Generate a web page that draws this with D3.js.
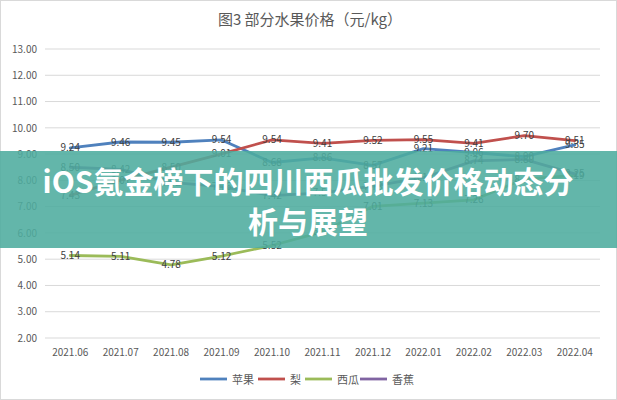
<!DOCTYPE html>
<html><head><meta charset="utf-8">
<script src="https://cdn.jsdelivr.net/npm/d3@7/dist/d3.min.js"></script>
<style>
html,body{margin:0;padding:0;background:#fff;}
svg{display:block;}
</style></head>
<body>
<svg id="c" width="617" height="400"></svg>
<script>
const months = ["2021.06","2021.07","2021.08","2021.09","2021.10","2021.11","2021.12","2022.01","2022.02","2022.03","2022.04"];
const apple = [9.24,9.46,9.45,9.54,8.68,8.86,8.57,9.21,9.06,8.90,9.35];
const pear = [7.43,8.01,8.50,9.01,9.54,9.41,9.52,9.55,9.41,9.70,9.51];
const watermelon = [5.14,5.11,4.78,5.12,5.52,6.04,7.01,7.13,7.26,8.05,8.19];
const banana = [8.50,8.42,7.92,7.76,7.42,7.52,7.78,8.10,8.74,8.80,8.25];
const seriesNames = ["苹果","梨","西瓜","香蕉"];
const seriesColors = ["#4f81bd","#c0504d","#9bbb59","#8064a2"];
const yTicks = [2,3,4,5,6,7,8,9,10,11,12,13];
const title = "图3  部分水果价格（元/kg）";
const bannerLines = ["iOS氪金榜下的四川西瓜批发价格动态分","析与展望"];

const series = [apple, pear, watermelon, banana];
const svg = d3.select("#c");
const font = "'Microsoft YaHei','Noto Sans CJK SC','Noto Sans',sans-serif";

svg.append("rect").attr("x",0.5).attr("y",0.5).attr("width",616).attr("height",399)
  .attr("fill","#fff").attr("stroke","#d9d9d9");

const x = d3.scaleBand().domain(months).range([45,600]);
const y = d3.scaleLinear().domain([2,13]).range([338,49]);

svg.append("text").attr("x",310).attr("y",25).attr("text-anchor","middle")
  .attr("font-family",font).attr("font-size",15).attr("fill","#595959").text(title);

// gridlines
svg.append("g").selectAll("line").data(yTicks).join("line")
  .attr("x1",45).attr("x2",600).attr("y1",d=>y(d)).attr("y2",d=>y(d))
  .attr("stroke","#d9d9d9").attr("stroke-width",1);

const yAxis = svg.append("g").attr("transform","translate(45,0)")
  .call(d3.axisLeft(y).tickValues(yTicks).tickFormat(d3.format(".2f")).tickSize(0).tickPadding(8));
yAxis.select(".domain").remove();
yAxis.selectAll("text").attr("font-family",font).attr("font-size",10).attr("fill","#595959");

const xAxis = svg.append("g").attr("transform","translate(0,338)")
  .call(d3.axisBottom(x).tickSize(0).tickPadding(11));
xAxis.select(".domain").remove();
xAxis.selectAll("text").attr("font-family",font).attr("font-size",10).attr("fill","#595959");

const cx = d => x(d) + x.bandwidth()/2;
const line = d3.line().x((d,i)=>cx(months[i])).y(d=>y(d));

series.forEach((s,k)=>{
  svg.append("path").datum(s).attr("d",line).attr("fill","none")
    .attr("stroke",seriesColors[k]).attr("stroke-width",2.8)
    .attr("stroke-linejoin","round").attr("stroke-linecap","round");
});
series.forEach((s,k)=>{
  svg.append("g").selectAll("text").data(s).join("text")
    .attr("x",(d,i)=>cx(months[i])).attr("y",d=>y(d)+3.5)
    .attr("text-anchor","middle").attr("font-family",font).attr("font-size",10)
    .attr("fill","#404040").text(d=>d3.format(".2f")(d));
});

// legend
const legItems = [{x:200,tx:232},{x:258,tx:290},{x:305,tx:337},{x:360,tx:392}];
seriesNames.forEach((n,k)=>{
  const it = legItems[k];
  svg.append("line").attr("x1",it.x).attr("x2",it.x+27).attr("y1",379).attr("y2",379)
    .attr("stroke",seriesColors[k]).attr("stroke-width",2.8);
  svg.append("text").attr("x",it.tx).attr("y",383.5).attr("font-family",font)
    .attr("font-size",11).attr("fill","#595959").text(n);
});

// banner overlay
svg.append("rect").attr("x",0).attr("y",151).attr("width",617).attr("height",97)
  .attr("fill","rgba(77,172,158,0.88)");
bannerLines.forEach((t,i)=>{
  svg.append("text").attr("x",308).attr("y",193+i*40).attr("text-anchor","middle")
    .attr("font-family","'Noto Sans CJK SC',sans-serif").attr("font-weight","bold")
    .attr("font-size",30).attr("fill","#fff").text(t);
});
</script>
</body></html>
